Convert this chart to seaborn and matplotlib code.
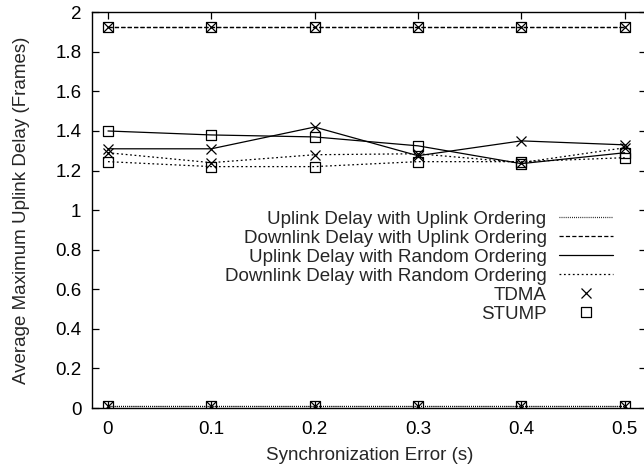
import matplotlib
matplotlib.use("Agg")
import matplotlib.pyplot as plt
from matplotlib.path import Path
from matplotlib.lines import Line2D
from matplotlib.ticker import FuncFormatter, MultipleLocator
import pandas as pd
import seaborn as sns

# Synchronization error (s)
sync_error = [0.0, 0.1, 0.2, 0.3, 0.4, 0.5]

# TDMA delays (frames)
tdma_up_uplink_order = [0.01, 0.01, 0.01, 0.01, 0.01, 0.01]
tdma_down_uplink_order = [1.925, 1.925, 1.925, 1.925, 1.925, 1.925]
tdma_up_random_order = [1.31, 1.31, 1.42, 1.275, 1.35, 1.33]
tdma_down_random_order = [1.29, 1.24, 1.28, 1.285, 1.24, 1.315]

# STUMP delays (frames)
stump_up_uplink_order = [0.01, 0.01, 0.01, 0.01, 0.01, 0.01]
stump_down_uplink_order = [1.925, 1.925, 1.925, 1.925, 1.925, 1.925]
stump_up_random_order = [1.40, 1.38, 1.37, 1.325, 1.235, 1.29]
stump_down_random_order = [1.245, 1.22, 1.22, 1.245, 1.245, 1.265]

series_labels = [
    "Uplink Delay with Uplink Ordering",
    "Downlink Delay with Uplink Ordering",
    "Uplink Delay with Random Ordering",
    "Downlink Delay with Random Ordering",
]

sns.set_theme(style="ticks")
plt.rcParams["font.family"] = ["Liberation Sans", "DejaVu Sans"]
plt.rcParams["lines.scale_dashes"] = False

FS = 13.5

line_styles = {
    series_labels[0]: (0, (0.6, 0.9)),
    series_labels[1]: (0, (3.0, 1.6)),
    series_labels[2]: "-",
    series_labels[3]: (0, (1.3, 1.9)),
}

# square with a centre dot, as used for STUMP points
box_dot = Path.make_compound_path(
    Path([(-1, -1), (1, -1), (1, 1), (-1, 1), (-1, -1)],
         [Path.MOVETO, Path.LINETO, Path.LINETO, Path.LINETO, Path.CLOSEPOLY]),
    Path([(-0.08, -0.08), (0.08, -0.08), (0.08, 0.08), (-0.08, 0.08), (-0.08, -0.08)],
         [Path.MOVETO, Path.LINETO, Path.LINETO, Path.LINETO, Path.CLOSEPOLY]),
)

marker_sizes = {"TDMA": 6.8, "STUMP": 7.2}

schemes = {
    "TDMA": ("x", [tdma_up_uplink_order, tdma_down_uplink_order,
                   tdma_up_random_order, tdma_down_random_order]),
    "STUMP": (box_dot, [stump_up_uplink_order, stump_down_uplink_order,
                        stump_up_random_order, stump_down_random_order]),
}

fig = plt.figure(figsize=(6.44, 4.70), dpi=100)
ax = fig.add_axes([0.1436, 0.1319, 0.86, 0.842])

for scheme, (marker, values) in schemes.items():
    for label, vals in zip(series_labels, values):
        df = pd.DataFrame({"x": sync_error, "y": vals})
        sns.lineplot(data=df, x="x", y="y", ax=ax, color="black",
                     linestyle=line_styles[label], linewidth=0.9,
                     marker=marker, markersize=marker_sizes[scheme],
                     markerfacecolor="none", markeredgecolor="black",
                     markeredgewidth=0.9, legend=False)

ax.set_xlim(-0.015, 0.521)
ax.set_ylim(0, 2)
ax.xaxis.set_major_locator(MultipleLocator(0.1))
ax.yaxis.set_major_locator(MultipleLocator(0.2))
fmt = FuncFormatter(lambda v, _: "%g" % round(v, 3))
ax.xaxis.set_major_formatter(fmt)
ax.yaxis.set_major_formatter(fmt)

ax.tick_params(direction="in", length=5, width=0.9, top=True, right=True,
               labelsize=FS, colors="black")
ax.tick_params(axis="y", pad=8)
ax.tick_params(axis="x", pad=9)
for sp in ax.spines.values():
    sp.set_visible(True)
    sp.set_color("black")
    sp.set_linewidth(1.0)

ax.set_xlabel("Synchronization Error (s)", fontsize=FS, labelpad=7)
ax.set_ylabel("Average Maximum Uplink Delay (Frames)", fontsize=FS, labelpad=18)

handles = [Line2D([], [], color="black", linestyle=line_styles[l], linewidth=0.9)
           for l in series_labels]
handles.append(Line2D([], [], color="black", linestyle="none", marker="x",
                      markersize=marker_sizes["TDMA"], markeredgewidth=0.9))
handles.append(Line2D([], [], color="black", linestyle="none", marker=box_dot,
                      markersize=marker_sizes["STUMP"], markerfacecolor="none",
                      markeredgewidth=0.9))
labels = series_labels + ["TDMA", "STUMP"]

ax.legend(handles, labels, loc="center right", bbox_to_anchor=(0.952, 0.432),
          bbox_transform=fig.transFigure, frameon=False, markerfirst=False,
          fontsize=FS, handlelength=2.9, handletextpad=0.65, labelspacing=0.1,
          borderpad=0, borderaxespad=0, numpoints=1)

fig.savefig("out.png", dpi=100)
